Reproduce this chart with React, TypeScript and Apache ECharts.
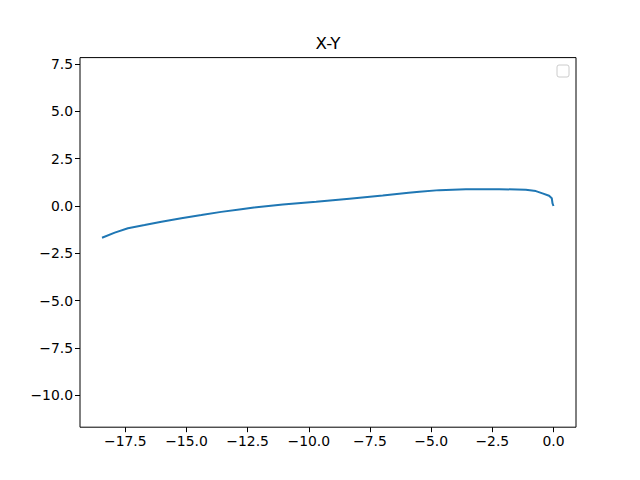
import React, { useEffect, useRef } from "react";
import * as echarts from "echarts";

const xValues = [-18.45, -17.93, -17.39, -16.71, -16.02, -15.21, -14.39, -13.58, -12.76, -12.24, -11.06, -9.70, -8.34, -6.98, -5.92, -5.48, -4.67, -3.58, -2.22, -1.13, -0.72, -0.45, -0.18, -0.07, -0.04, 0.0];
const yValues = [-1.68, -1.41, -1.18, -1.01, -0.83, -0.65, -0.48, -0.31, -0.17, -0.08, 0.08, 0.23, 0.39, 0.55, 0.70, 0.76, 0.84, 0.88, 0.89, 0.86, 0.79, 0.67, 0.54, 0.41, 0.14, 0.0];
const xTicks = [-17.5, -15.0, -12.5, -10.0, -7.5, -5.0, -2.5, 0.0];
const yTicks = [-10.0, -7.5, -5.0, -2.5, 0.0, 2.5, 5.0, 7.5];

const fmt = (v: number) => (v < 0 ? "\u2212" : "") + Math.abs(v).toFixed(1);

export default function App() {
  const ref = useRef<HTMLDivElement>(null);
  useEffect(() => {
    if (!ref.current) return;
    const chart = echarts.init(ref.current, null, { renderer: "svg" });
    const font = "DejaVu Sans";
    chart.setOption({
      animation: false,
      backgroundColor: "#ffffff",
      grid: {
        left: 80,
        right: 64,
        top: 57.6,
        bottom: 52.8,
        show: true,
        borderColor: "#000000",
        borderWidth: 1,
        backgroundColor: "transparent",
      },
      xAxis: {
        type: "value",
        min: -19.35,
        max: 0.92,
        position: "bottom",
        axisLine: { show: false, onZero: false },
        splitLine: { show: false },
        axisTick: { show: true, length: 5, inside: false, customValues: xTicks, lineStyle: { color: "#000" } },
        axisLabel: {
          customValues: xTicks,
          formatter: fmt,
          color: "#000",
          fontSize: 13.9,
          fontFamily: font,
          margin: 7,
        },
      },
      yAxis: {
        type: "value",
        min: -11.7,
        max: 7.85,
        position: "left",
        axisLine: { show: false, onZero: false },
        splitLine: { show: false },
        axisTick: { show: true, length: 5, inside: false, customValues: yTicks, lineStyle: { color: "#000" } },
        axisLabel: {
          customValues: yTicks,
          formatter: fmt,
          color: "#000",
          fontSize: 13.9,
          fontFamily: font,
          margin: 7,
        },
      },
      series: [
        {
          type: "line",
          data: xValues.map((x, i) => [x, yValues[i]]),
          showSymbol: false,
          smooth: false,
          lineStyle: { color: "#1f77b4", width: 2 },
          itemStyle: { color: "#1f77b4" },
        },
      ],
      graphic: [
        {
          type: "text",
          x: 328,
          y: 43,
          style: {
            text: "X-Y",
            fontSize: 16.7,
            fontFamily: font,
            fill: "#000",
            align: "center",
            verticalAlign: "middle",
          },
        },
        {
          type: "rect",
          shape: { x: 557, y: 65, width: 12, height: 12, r: 2 },
          style: { fill: "#ffffff", stroke: "#cccccc", lineWidth: 1 },
        },
      ],
    });
    return () => chart.dispose();
  }, []);
  return (
    <div
      ref={ref}
      style={{ position: "fixed", left: 0, top: 0, width: 640, height: 480 }}
    />
  );
}
